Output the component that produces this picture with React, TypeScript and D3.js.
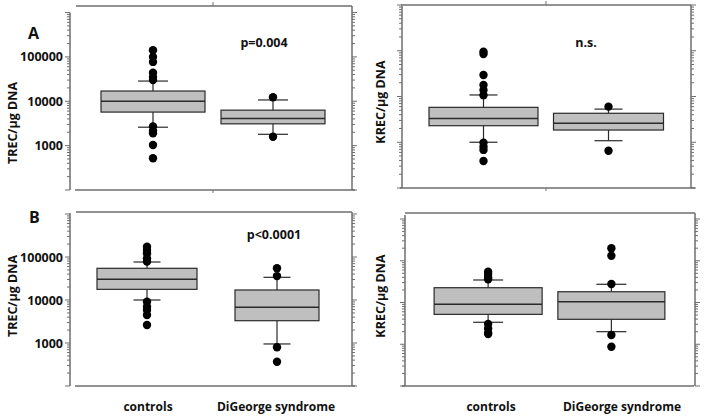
import React from "react";
import * as d3 from "d3";

const categories = ["controls", "DiGeorge syndrome"];
const panelLetters = ["A", "", "B", ""];
const yTitles = ["TREC/µg DNA", "KREC/µg DNA", "TREC/µg DNA", "KREC/µg DNA"];
const pTexts = ["p=0.004", "n.s.", "p<0.0001", ""];
const trecTickValues = [1000, 10000, 100000];
const trecTickLabels = ["1000", "10000", "100000"];

// box stats per group: [lower whisker, q1, median, q3, upper whisker]
const trecA = [
  [2600, 5700, 10000, 17000, 28500],
  [1800, 3100, 4100, 6300, 10700],
];
const trecAOut = [
  [141000, 100000, 77000, 44000, 35000, 30000, 2700, 2150, 1900, 1030, 520],
  [12300, 1580],
];
const krecA = [
  [10, 23, 33, 58, 108],
  [10.8, 18.5, 26, 43, 53],
];
const krecAOut = [
  [955, 850, 295, 178, 138, 107, 9.8, 8.0, 6.8, 3.9],
  [60, 6.5],
];
const trecB = [
  [10000, 17700, 30300, 54600, 76500],
  [950, 3300, 6770, 17100, 33700],
];
const trecBOut = [
  [174000, 145000, 122000, 93000, 78000, 9100, 7000, 5850, 4480, 2620],
  [55000, 36000, 795, 367],
];
const krecB = [
  [33.6, 52, 90.6, 226, 346],
  [20, 39.6, 104.5, 181, 273],
];
const krecBOut = [
  [547, 482, 402, 359, 30.5, 24, 18.9, 17.6],
  [1990, 1320, 277, 16.7, 8.7],
];

const panelData = [
  { boxes: trecA, outliers: trecAOut, domain: [100, 1e6], labelled: true },
  { boxes: krecA, outliers: krecAOut, domain: [1, 1e4], labelled: false },
  { boxes: trecB, outliers: trecBOut, domain: [100, 1e6], labelled: true },
  { boxes: krecB, outliers: krecBOut, domain: [1, 1e4], labelled: false },
];

const layouts = [
  {
    xl: 70, xr: 352, yTop: 6, yBot: 190, yScaleTop: 12.5, leftAxisTop: 12.5,
    band: [93, 333], boxW: [104, 104], capW: 30, topLine: [76, 352], botLine: [75, 355],
    midTick: true, letter: [28, 39], p: [264, 47], title: [17, 123], catLabels: null,
  },
  {
    xl: 402, xr: 691, yTop: 5, yBot: 188, yScaleTop: 5, leftAxisTop: 4,
    band: [421, 671], boxW: [109, 110], capW: 28, topLine: [403, 691], botLine: [400, 695],
    midTick: true, letter: [0, 0], p: [586, 47], title: [385, 102], catLabels: null,
  },
  {
    xl: 70, xr: 352, yTop: 212, yBot: 386, yScaleTop: 214, leftAxisTop: 213,
    band: [82, 342], boxW: [100, 84], capW: 27, topLine: [76, 352], botLine: [75, 355],
    midTick: false, letter: [29, 223], p: [274, 239], title: [17, 296], catLabels: [148, 276],
  },
  {
    xl: 405, xr: 695, yTop: 213, yBot: 386, yScaleTop: 219, leftAxisTop: 215,
    band: [426.5, 673], boxW: [108, 107], capW: 30, topLine: [405, 695], botLine: [402, 694],
    midTick: false, letter: [0, 0], p: [0, 0], title: [385, 296], catLabels: [491, 622],
  },
];

const FONT = "'Open Sans', 'Liberation Sans', sans-serif";
const AXIS = "#6e6e6e";
const BOXFILL = "#bfbfbf";
const INK = "#2a2a2a";

function Panel({ idx }: { idx: number }) {
  const d = panelData[idx];
  const L = layouts[idx];
  const y = d3.scaleLog().domain(d.domain).range([L.yBot, L.yScaleTop]);
  const x = d3.scaleBand().domain(categories).range(L.band as [number, number]);
  const bw = x.bandwidth();

  const ticks: { v: number; major: boolean }[] = [];
  const d0 = Math.round(Math.log10(d.domain[0]));
  const d1 = Math.round(Math.log10(d.domain[1]));
  for (let e = d0; e <= d1; e++) {
    for (let k = 1; k <= 9; k++) {
      const v = k * Math.pow(10, e);
      if (v > d.domain[1] * 1.0001) break;
      ticks.push({ v, major: k === 1 });
    }
  }

  return (
    <g>
      <line x1={L.topLine[0]} x2={L.topLine[1]} y1={L.yTop} y2={L.yTop} stroke={AXIS} strokeWidth={1.5} />
      <line x1={L.botLine[0]} x2={L.botLine[1]} y1={L.yBot} y2={L.yBot} stroke={AXIS} strokeWidth={1.5} />
      <line x1={L.xl} x2={L.xl} y1={L.leftAxisTop} y2={L.yBot} stroke={AXIS} strokeWidth={1.5} />
      <line x1={L.xr} x2={L.xr} y1={L.yTop} y2={L.yBot} stroke={AXIS} strokeWidth={1.5} />
      {L.midTick && (
        <g>
          <line x1={(L.band[0] + L.band[1]) / 2} x2={(L.band[0] + L.band[1]) / 2} y1={L.yTop - 4} y2={L.yTop} stroke={AXIS} strokeWidth={1} />
          <line x1={(L.band[0] + L.band[1]) / 2} x2={(L.band[0] + L.band[1]) / 2} y1={L.yBot} y2={L.yBot + 3} stroke={AXIS} strokeWidth={1} />
        </g>
      )}
      {ticks.map((t, i) => (
        <g key={i}>
          <line x1={L.xl - (t.major ? 5 : 3)} x2={L.xl} y1={y(t.v)} y2={y(t.v)} stroke={AXIS} strokeWidth={1} />
          <line x1={L.xr} x2={L.xr + (t.major ? 5 : 3)} y1={y(t.v)} y2={y(t.v)} stroke={AXIS} strokeWidth={1} />
        </g>
      ))}
      {d.labelled &&
        trecTickValues.map((v, i) => (
          <text key={v} x={63} y={y(v) + 4.5} textAnchor="end" fontFamily={FONT} fontWeight="bold" fontSize={12.5} fill="#111">
            {trecTickLabels[i]}
          </text>
        ))}
      <text
        transform={`translate(${L.title[0]},${L.title[1]}) rotate(-90)`}
        textAnchor="middle"
        fontFamily={FONT}
        fontWeight="bold"
        fontSize={12.5}
        fill="#111"
      >
        {yTitles[idx]}
      </text>
      {panelLetters[idx] && (
        <text x={L.letter[0]} y={L.letter[1]} fontFamily={FONT} fontWeight="bold" fontSize={16} fill="#111">
          {panelLetters[idx]}
        </text>
      )}
      {pTexts[idx] && (
        <text x={L.p[0]} y={L.p[1]} textAnchor="middle" fontFamily={FONT} fontWeight="bold" fontSize={12.5} fill="#111">
          {pTexts[idx]}
        </text>
      )}
      {categories.map((c, gi) => {
        const cx = (x(c) as number) + bw / 2;
        const [wl, q1, med, q3, wh] = d.boxes[gi];
        const w = L.boxW[gi];
        return (
          <g key={c}>
            <line x1={cx} x2={cx} y1={y(q3)} y2={y(wh)} stroke={INK} strokeWidth={1.2} />
            <line x1={cx} x2={cx} y1={y(q1)} y2={y(wl)} stroke={INK} strokeWidth={1.2} />
            <line x1={cx - L.capW / 2} x2={cx + L.capW / 2} y1={y(wh)} y2={y(wh)} stroke={INK} strokeWidth={1.2} />
            <line x1={cx - L.capW / 2} x2={cx + L.capW / 2} y1={y(wl)} y2={y(wl)} stroke={INK} strokeWidth={1.2} />
            <rect x={cx - w / 2} y={y(q3)} width={w} height={y(q1) - y(q3)} fill={BOXFILL} stroke={INK} strokeWidth={1.2} />
            <line x1={cx - w / 2} x2={cx + w / 2} y1={y(med)} y2={y(med)} stroke={INK} strokeWidth={1.4} />
            {d.outliers[gi].map((v, k) => (
              <circle key={k} cx={cx} cy={y(v)} r={4.2} fill="#000" />
            ))}
          </g>
        );
      })}
      {L.catLabels &&
        categories.map((c, gi) => (
          <text key={c} x={L.catLabels![gi]} y={411} textAnchor="middle" fontFamily={FONT} fontWeight="bold" fontSize={12} fill="#111">
            {c}
          </text>
        ))}
    </g>
  );
}

export default function App() {
  return (
    <svg
      width={704}
      height={418}
      style={{ position: "absolute", left: 0, top: 0, background: "#fff" }}
    >
      <rect width={704} height={418} fill="#fff" />
      {[0, 1, 2, 3].map((i) => (
        <Panel key={i} idx={i} />
      ))}
    </svg>
  );
}
